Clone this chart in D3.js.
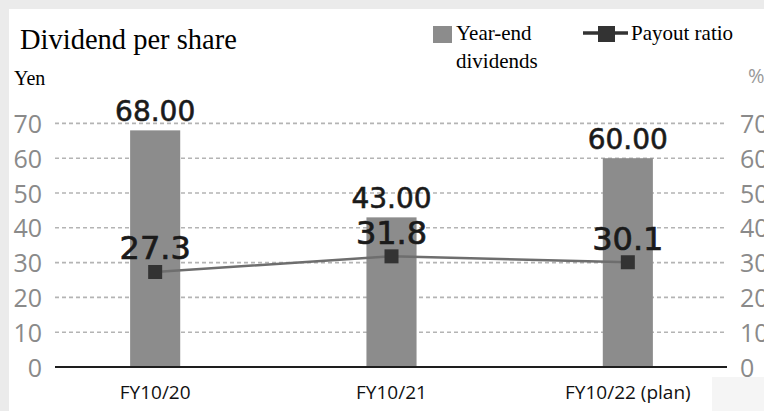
<!DOCTYPE html>
<html>
<head>
<meta charset="utf-8">
<script src="https://cdn.jsdelivr.net/npm/d3@7"></script>
<style>
	body { margin: 0; background: #ebebeb; }
	svg { display: block; }
</style>
</head>
<body>
<svg id="svg_chart"></svg>
<script>
// data
var arr_categories = ["FY10/20", "FY10/21", "FY10/22 (plan)"];
var arr_dividends = [68.00, 43.00, 60.00];
var arr_payout = [27.3, 31.8, 30.1];
var arr_ticks = [0, 10, 20, 30, 40, 50, 60, 70];

var chart_width = 764;
var chart_height = 411;

var svg_chart = d3.select("svg#svg_chart")
	.attr("width", chart_width)
	.attr("height", chart_height);

// white panel, grey frame shows on top & left
svg_chart.append("rect")
	.attr("x", 9).attr("y", 9)
	.attr("width", chart_width - 9).attr("height", chart_height - 9)
	.attr("fill", "#ffffff");

svg_chart.append("rect")
	.attr("x", 712).attr("y", 377)
	.attr("width", chart_width - 712).attr("height", chart_height - 377)
	.attr("fill", "#f5f5f5");

var x_band = d3.scaleBand()
	.domain(arr_categories)
	.range([37, 746])
	.paddingInner(0.788)
	.paddingOuter(0.394);

var y_val = d3.scaleLinear()
	.domain([0, 70])
	.range([367, 123.4]);

var grid_left = 55;
var grid_right = 727;

// ====================================================
// dotted grid lines
svg_chart.append("g")
	.attr("class", "grid")
	.selectAll("line")
	.data(arr_ticks.filter(function(d) { return d > 0; }))
	.enter().append("line")
	.attr("x1", grid_left)
	.attr("x2", grid_right)
	.attr("y1", function(d) { return y_val(d); })
	.attr("y2", function(d) { return y_val(d); })
	.attr("stroke", "#b4b4b4")
	.attr("stroke-width", 1.6)
	.attr("stroke-dasharray", "4,3");

// ====================================================
// left & right axes, labels only
var axis_left = svg_chart.append("g")
	.attr("transform", "translate(" + 42 + ",0)")
	.call(d3.axisLeft(y_val).tickValues(arr_ticks).tickSize(0).tickPadding(0));

var axis_right = svg_chart.append("g")
	.attr("transform", "translate(" + 740 + ",0)")
	.call(d3.axisRight(y_val).tickValues(arr_ticks).tickSize(0).tickPadding(0));

[axis_left, axis_right].forEach(function(g) {
	g.select(".domain").remove();
	g.selectAll("text")
		.attr("font-family", "'Open Sans', sans-serif")
		.attr("font-size", 25)
		.attr("fill", "#8a8a8a")
		.attr("dy", "0.36em");
});

// ====================================================
// bars
svg_chart.append("g")
	.selectAll("rect")
	.data(arr_dividends)
	.enter().append("rect")
	.attr("x", function(d, i) { return x_band(arr_categories[i]); })
	.attr("width", x_band.bandwidth())
	.attr("y", function(d) { return y_val(d); })
	.attr("height", function(d) { return y_val(0) - y_val(d); })
	.attr("fill", "#8c8c8c");

// base line
svg_chart.append("line")
	.attr("x1", grid_left).attr("x2", grid_right)
	.attr("y1", y_val(0)).attr("y2", y_val(0))
	.attr("stroke", "#1e1e1e")
	.attr("stroke-width", 2);

// bar value labels
svg_chart.append("g")
	.selectAll("text")
	.data(arr_dividends)
	.enter().append("text")
	.attr("x", function(d, i) { return x_band(arr_categories[i]) + x_band.bandwidth() / 2; })
	.attr("y", function(d) { return y_val(d) - 9; })
	.attr("text-anchor", "middle")
	.attr("font-family", "'DejaVu Sans', sans-serif")
	.attr("font-size", 28)
	.attr("fill", "#1a1a1a")
	.attr("stroke", "#1a1a1a")
	.attr("stroke-width", 0.6)
	.text(function(d) { return d.toFixed(2); });

// ====================================================
// payout ratio line
var line_payout = d3.line()
	.x(function(d, i) { return x_band(arr_categories[i]) + x_band.bandwidth() / 2; })
	.y(function(d) { return y_val(d); });

svg_chart.append("path")
	.datum(arr_payout)
	.attr("d", line_payout)
	.attr("fill", "none")
	.attr("stroke", "#6e6e6e")
	.attr("stroke-width", 2.5);

svg_chart.append("g")
	.selectAll("rect")
	.data(arr_payout)
	.enter().append("rect")
	.attr("x", function(d, i) { return x_band(arr_categories[i]) + x_band.bandwidth() / 2 - 7; })
	.attr("y", function(d) { return y_val(d) - 7; })
	.attr("width", 14)
	.attr("height", 14)
	.attr("fill", "#333333");

svg_chart.append("g")
	.selectAll("text")
	.data(arr_payout)
	.enter().append("text")
	.attr("x", function(d, i) { return x_band(arr_categories[i]) + x_band.bandwidth() / 2; })
	.attr("y", function(d) { return y_val(d) - 12.5; })
	.attr("text-anchor", "middle")
	.attr("font-family", "'DejaVu Sans', sans-serif")
	.attr("font-size", 32)
	.attr("fill", "#1a1a1a")
	.attr("stroke", "#1a1a1a")
	.attr("stroke-width", 0.7)
	.text(function(d) { return d.toFixed(1); });

// ====================================================
// category labels
svg_chart.append("g")
	.selectAll("text")
	.data(arr_categories)
	.enter().append("text")
	.attr("x", function(d) { return x_band(d) + x_band.bandwidth() / 2; })
	.attr("y", 399)
	.attr("text-anchor", "middle")
	.attr("font-family", "'Open Sans', sans-serif")
	.attr("font-size", 19)
	.attr("fill", "#111111")
	.text(function(d) { return d; });

// ====================================================
// titles
svg_chart.append("text")
	.attr("x", 20).attr("y", 49)
	.attr("font-family", "'Liberation Serif', serif")
	.attr("font-size", 28.5)
	.attr("fill", "#000000")
	.text("Dividend per share");

svg_chart.append("text")
	.attr("x", 14).attr("y", 85)
	.attr("font-family", "'Liberation Serif', serif")
	.attr("font-size", 20)
	.attr("fill", "#000000")
	.text("Yen");

svg_chart.append("text")
	.attr("x", 748).attr("y", 83)
	.attr("font-family", "'Open Sans', sans-serif")
	.attr("font-size", 20)
	.attr("fill", "#999999")
	.text("%");

// ====================================================
// legend
var legend = svg_chart.append("g").attr("class", "legend");

legend.append("rect")
	.attr("x", 433).attr("y", 26)
	.attr("width", 19).attr("height", 17)
	.attr("fill", "#8c8c8c");

legend.append("text")
	.attr("x", 456).attr("y", 40)
	.attr("font-family", "'Liberation Serif', serif")
	.attr("font-size", 21)
	.attr("fill", "#000000")
	.text("Year-end");

legend.append("text")
	.attr("x", 456).attr("y", 68)
	.attr("font-family", "'Liberation Serif', serif")
	.attr("font-size", 21)
	.attr("fill", "#000000")
	.text("dividends");

legend.append("line")
	.attr("x1", 583).attr("x2", 628)
	.attr("y1", 33).attr("y2", 33)
	.attr("stroke", "#333333")
	.attr("stroke-width", 3.5);

legend.append("rect")
	.attr("x", 598).attr("y", 26)
	.attr("width", 17).attr("height", 16)
	.attr("fill", "#333333");

legend.append("text")
	.attr("x", 631).attr("y", 40)
	.attr("font-family", "'Liberation Serif', serif")
	.attr("font-size", 21)
	.attr("fill", "#000000")
	.text("Payout ratio");
</script>
</body>
</html>
